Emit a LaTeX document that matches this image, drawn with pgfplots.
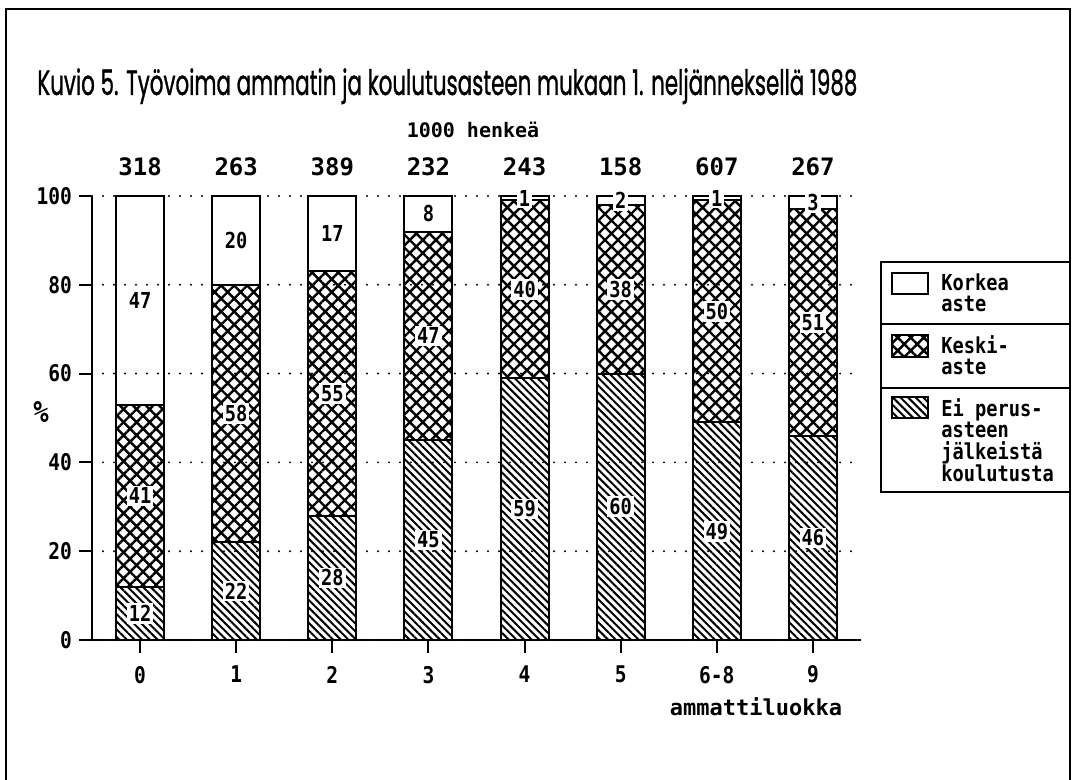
\documentclass[border=0pt]{standalone}
\usepackage{graphicx}
\usepackage{pgfplots}
\pgfplotsset{compat=1.18}
\usepackage{fontspec}
\usetikzlibrary{patterns.meta}
\newfontfamily\pf[FakeStretch=0.85]{DejaVu Sans Mono}
\newfontfamily\pfw{DejaVu Sans Mono}
\newfontfamily\titlefont[FakeBold=1.2]{Poppins}
\tikzset{
  pkeski/.style={pattern={Hatch[angle=45,distance=4.6pt,line width=1.2pt]}, pattern color=black},
  pei/.style={pattern={Lines[angle=-45,distance=2.7pt,line width=1pt]}, pattern color=black},
}
\begin{document}
\begin{tikzpicture}
\useasboundingbox (0,0) rectangle (536.5pt,-390pt);
% outer frame
\draw[line width=1pt] (3pt,-392pt) -- (3pt,-4.5pt) -- (535pt,-4.5pt) -- (535pt,-392pt);
% title
\node[anchor=base west, inner sep=0pt] at (18.5pt,-47.5pt)
  {\resizebox{410pt}{\height}{\titlefont\fontsize{17.5}{19}\selectfont Kuvio 5. Työvoima ammatin ja koulutusasteen mukaan 1. neljänneksellä 1988}};
\node[inner sep=0pt] at (236.5pt,-65.2pt) {\pfw\bfseries\fontsize{10}{10}\selectfont 1000 henkeä};
\node[inner sep=0pt] at (378pt,-353.5pt) {\pfw\bfseries\fontsize{11}{11}\selectfont ammattiluokka};
\node[inner sep=0pt] at (20.5pt,-206pt) {\pf\bfseries\fontsize{15}{15}\selectfont \%};

\begin{axis}[
  at={(46pt,-320pt)}, anchor=south west,
  scale only axis, width=384.5pt, height=222pt,
  ybar stacked, bar width=0.5,
  xmin=-0.5, xmax=7.5, ymin=0, ymax=100,
  axis lines=left, axis line style={-, line width=1.2pt},
  xtick={0,1,2,3,4,5,6,7}, xticklabels={0,1,2,3,4,5,6-8,9},
  ytick={0,20,40,60,80,100},
  tick align=outside, major tick length=6.5pt,
  tick style={line width=1pt, black},
  ymajorgrids,
  grid style={line width=1.1pt, line cap=round, dash pattern=on 0pt off 5.5pt, black},
  axis on top,
  ticklabel style={font=\pf\bfseries\fontsize{11.5}{12}\selectfont},
  xticklabel style={yshift=-3pt},
  yticklabel style={/pgf/number format/assume math mode=true},
]
\addplot[draw=black, line width=1pt, pei] coordinates {(0,12) (1,22) (2,28) (3,45) (4,59) (5,60) (6,49) (7,46)};
\addplot[draw=black, line width=1pt, pkeski] coordinates {(0,41) (1,58) (2,55) (3,47) (4,40) (5,38) (6,50) (7,51)};
\addplot[draw=black, line width=1pt, fill=white] coordinates {(0,47) (1,20) (2,17) (3,8) (4,1) (5,2) (6,1) (7,3)};
\end{axis}

\begin{axis}[
  at={(46pt,-320pt)}, anchor=south west,
  scale only axis, width=384.5pt, height=222pt,
  xmin=-0.5, xmax=7.5, ymin=0, ymax=100,
  hide axis, clip=false,
]
\addplot[draw=none, nodes near coords, point meta=explicit symbolic,
  nodes near coords style={anchor=center, fill=white, inner sep=1pt, font=\pf\bfseries\fontsize{11}{11}\selectfont}]
  coordinates {
  (0,6)[12] (0,32.5)[41] (0,76.5)[47]
  (1,11)[22] (1,51)[58] (1,90)[20]
  (2,14)[28] (2,55.5)[55] (2,91.5)[17]
  (3,22.5)[45] (3,68.5)[47] (3,96)[8]
  (4,29.5)[59] (4,79)[40] (4,99.5)[1]
  (5,30)[60] (5,79)[38] (5,99)[2]
  (6,24.5)[49] (6,74)[50] (6,99.5)[1]
  (7,23)[46] (7,71.5)[51] (7,98.5)[3]
  };
\addplot[draw=none, nodes near coords, point meta=explicit symbolic,
  nodes near coords style={anchor=center, inner sep=0pt, font=\pfw\bfseries\fontsize{12}{12}\selectfont}]
  coordinates {(0,106.5)[318] (1,106.5)[263] (2,106.5)[389] (3,106.5)[232] (4,106.5)[243] (5,106.5)[158] (6,106.5)[607] (7,106.5)[267]};
\end{axis}

% legend
\draw[line width=1pt] (535pt,-131pt) -- (440.5pt,-131pt) -- (440.5pt,-246pt) -- (535pt,-246pt);
\draw[line width=1pt] (440.5pt,-162pt) -- (535pt,-162pt);
\draw[line width=1pt] (440.5pt,-194pt) -- (535pt,-194pt);
\draw[line width=1pt, fill=white] (446pt,-136.5pt) rectangle (464pt,-147pt);
\draw[line width=1pt, pkeski] (446pt,-167.5pt) rectangle (464pt,-178.5pt);
\draw[line width=1pt, pei] (446pt,-198.5pt) rectangle (464pt,-209pt);
\begin{scope}[every node/.style={anchor=north west, inner sep=0pt, align=left, font=\pf\bfseries\fontsize{11}{10.8}\selectfont}]
\node at (470.5pt,-136.5pt) {Korkea\\aste};
\node at (470.5pt,-167.5pt) {Keski-\\aste};
\node at (470.5pt,-199pt) {Ei perus-\\asteen\\jälkeistä\\koulutusta};
\end{scope}
\end{tikzpicture}
\end{document}
